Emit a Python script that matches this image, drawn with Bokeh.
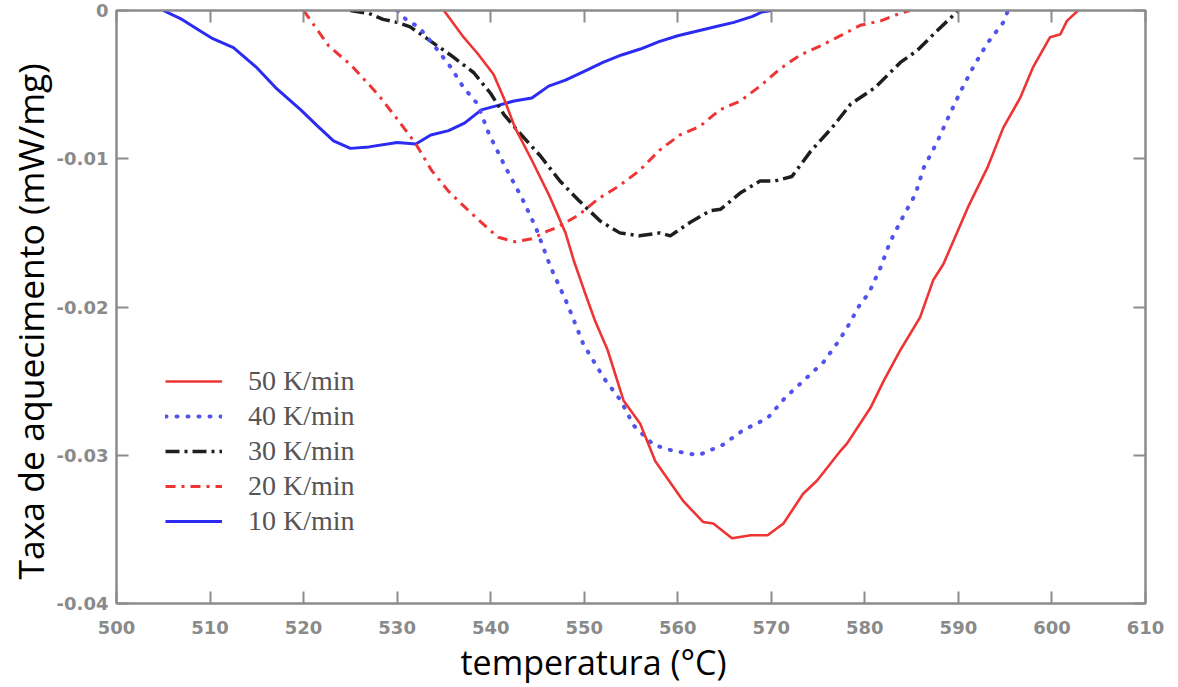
from bokeh.embed import file_html
from bokeh.models import (CustomJSTickFormatter, FixedTicker, Legend,
                          LegendItem, LinearAxis, Range1d, Title)
from bokeh.plotting import figure
from bokeh.resources import INLINE

# Heating rates shown in the legend
rates = ["50 K/min", "40 K/min", "30 K/min", "20 K/min", "10 K/min"]

# DSC signal (mW/mg) against temperature (°C) for each heating rate
t_50 = [535, 537.1, 538.6, 540.3, 541.4, 542.6, 544.4, 546.2, 548, 548.9, 550,
        551.2, 552.5, 554.2, 556, 557.6, 560.6, 562.7, 563.8, 565.8, 567.8,
        569.6, 571.3, 573.4, 574.9, 577.4, 578.1, 580.6, 582, 583.8, 585.9,
        587.3, 588.4, 589.5, 591, 593.1, 594.8, 596.6, 598, 599.8, 600.9,
        601.6, 602.8]
q_50 = [0, -0.0018, -0.0029, -0.0043, -0.0059, -0.0079, -0.0101, -0.0124,
        -0.015, -0.0169, -0.0189, -0.021, -0.0229, -0.0263, -0.0279, -0.0304,
        -0.0331, -0.0345, -0.0346, -0.0356, -0.0354, -0.0354, -0.0346,
        -0.0326, -0.0317, -0.0297, -0.0292, -0.0268, -0.025, -0.0229, -0.0207,
        -0.0182, -0.0171, -0.0155, -0.0133, -0.0106, -0.0079, -0.0059,
        -0.0038, -0.0018, -0.0016, -0.0007, 0]

t_40 = [530, 531.1, 532.3, 534, 535.7, 537.1, 538.6, 539.8, 541.6, 543.3,
        544.8, 546.4, 548.2, 549.9, 552.1, 553.9, 555.3, 557.4, 559.5, 562.2,
        564.8, 567, 569.6, 571.5, 573.4, 575.6, 577.2, 578.1, 579.5, 580.4,
        581.7, 582.7, 584, 585.4, 586.3, 587.7, 589, 590.2, 591.6, 593.1,
        594.8, 595.3]
q_40 = [0, -0.0007, -0.0011, -0.0024, -0.0038, -0.0052, -0.0063, -0.0083,
        -0.0106, -0.0126, -0.0146, -0.0173, -0.0198, -0.0225, -0.0248,
        -0.0263, -0.028, -0.0293, -0.0297, -0.03, -0.0293, -0.0283, -0.0275,
        -0.0261, -0.025, -0.0237, -0.0223, -0.0214, -0.0198, -0.0191,
        -0.0173, -0.0156, -0.014, -0.0124, -0.0106, -0.0089, -0.0071,
        -0.0055, -0.0038, -0.0022, -0.0008, 0]

t_30 = [525, 527, 528.5, 530, 531.4, 533.2, 535.7, 538.2, 540, 541.4, 543,
        545.3, 547.4, 549.4, 551.7, 553.8, 555.9, 558.1, 559.2, 561.3, 563.5,
        564.6, 566.7, 568.8, 570.4, 572.2, 574.2, 576.5, 578.5, 581.1, 583.8,
        585.6, 587.5, 590]
q_30 = [0, -0.0002, -0.0006, -0.0008, -0.0011, -0.0019, -0.003, -0.0042,
        -0.0056, -0.007, -0.0082, -0.0098, -0.0115, -0.0128, -0.0142, -0.015,
        -0.0152, -0.015, -0.0152, -0.0143, -0.0135, -0.0134, -0.0123,
        -0.0115, -0.0115, -0.0112, -0.0095, -0.0079, -0.0063, -0.0052,
        -0.0035, -0.0027, -0.0015, 0]

t_20 = [520, 522.7, 525.1, 528, 530.1, 532, 533.7, 535.5, 537.3, 539, 540.8,
        542.6, 544.4, 546, 547.2, 549.4, 551.5, 553.8, 555.9, 558.1, 560.2,
        562.4, 564.5, 566.7, 568.8, 571, 573.1, 575.2, 577.4, 579.5, 581.7,
        583.3, 584.8]
q_20 = [0, -0.0024, -0.0037, -0.0057, -0.0074, -0.009, -0.0108, -0.0122,
        -0.0133, -0.0143, -0.0153, -0.0156, -0.0154, -0.0149, -0.0146,
        -0.0138, -0.0127, -0.0118, -0.0108, -0.0094, -0.0084, -0.0078,
        -0.0067, -0.0061, -0.0051, -0.0039, -0.003, -0.0024, -0.0017, -0.001,
        -0.0007, -0.0003, 0]

t_10 = [505, 507, 509, 510.3, 512.5, 514.9, 517, 519.7, 521.5, 523.2, 525,
        527, 530, 532, 533.6, 535.5, 537.2, 539, 540.8, 542.5, 544.4, 546.2,
        548, 550, 552, 554, 556, 558, 560, 562, 564, 566, 568, 569, 570]
q_10 = [0, -0.0006, -0.0014, -0.0019, -0.0025, -0.0038, -0.0052, -0.0067,
        -0.0078, -0.0088, -0.0093, -0.0092, -0.0089, -0.009, -0.0084,
        -0.0081, -0.0076, -0.0067, -0.0064, -0.0061, -0.0059, -0.0051,
        -0.0047, -0.0041, -0.0035, -0.003, -0.0026, -0.0021, -0.0017,
        -0.0014, -0.0011, -0.0008, -0.0004, -0.0001, 0]

x_ticks = [500, 510, 520, 530, 540, 550, 560, 570, 580, 590, 600, 610]
y_ticks = [0, -0.01, -0.02, -0.03, -0.04]

FRAME_GREY = "#8c8c8c"
TICK_GREY = "#8a8a8a"

p = figure(width=1178, height=687,
           x_range=Range1d(500, 610), y_range=Range1d(-0.04, 0),
           min_border_left=116, min_border_right=33,
           min_border_top=10, min_border_bottom=84,
           toolbar_location=None, output_backend="svg")
p.xgrid.visible = False
p.ygrid.visible = False
p.background_fill_color = "white"
p.border_fill_color = "white"
p.outline_line_color = FRAME_GREY
p.outline_line_width = 2

y_fmt = CustomJSTickFormatter(code="return tick == 0 ? '0' : tick.toFixed(2);")
blank_fmt = CustomJSTickFormatter(code="return '';")


def style_axis(ax, ticks, show_labels):
    ax.ticker = FixedTicker(ticks=ticks)
    ax.axis_line_color = FRAME_GREY
    ax.axis_line_width = 2
    ax.major_tick_line_color = FRAME_GREY
    ax.major_tick_line_width = 2
    ax.major_tick_in = 12
    ax.major_tick_out = 0
    ax.minor_tick_line_color = None
    ax.major_label_text_font = "DejaVu Sans"
    ax.major_label_text_font_style = "bold"
    ax.major_label_text_font_size = "18px"
    ax.major_label_text_color = TICK_GREY
    if not show_labels:
        ax.formatter = blank_fmt
        ax.major_label_standoff = 0
        ax.major_label_text_font_size = "0px"


xa = p.xaxis[0]
style_axis(xa, x_ticks, True)
xa.major_label_standoff = 17

ya = p.yaxis[0]
style_axis(ya, y_ticks, True)
ya.formatter = y_fmt
ya.major_label_standoff = 8

top_axis = LinearAxis()
style_axis(top_axis, x_ticks, False)
p.add_layout(top_axis, "above")
right_axis = LinearAxis()
style_axis(right_axis, y_ticks, False)
p.add_layout(right_axis, "right")

# Axis titles, set slightly off-centre along the frame
title_style = dict(text_font="Open Sans", text_font_style="normal",
                   text_color="black", align="left", standoff=0)
p.add_layout(Title(text="temperatura (°C)", offset=344,
                   text_font_size="34px", **title_style), "below")
p.add_layout(Title(text="Taxa de aquecimento (mW/mg)", offset=24,
                   text_font_size="35.5px", **title_style), "left")

RED = "#ee3434"
r10 = p.line(t_10, q_10, line_color="#2b2bf2", line_width=3)
r20 = p.line(t_20, q_20, line_color=RED, line_width=3,
             line_dash="10 6 3 6")
r30 = p.line(t_30, q_30, line_color="#1e1e1e", line_width=3.5,
             line_dash="14 5 3 5")
r40 = p.line(t_40, q_40, line_color="#5252ee", line_width=4,
             line_dash="1 10", line_cap="round")
r50 = p.line(t_50, q_50, line_color=RED, line_width=2.6)

legend = Legend(
    items=[LegendItem(label=rates[0], renderers=[r50]),
           LegendItem(label=rates[1], renderers=[r40]),
           LegendItem(label=rates[2], renderers=[r30]),
           LegendItem(label=rates[3], renderers=[r20]),
           LegendItem(label=rates[4], renderers=[r10])],
    location=(49, 66), glyph_width=57, glyph_height=30, label_height=30,
    label_standoff=26, spacing=3, padding=0, margin=0,
    label_text_font="Liberation Serif", label_text_font_size="28px",
    label_text_color="#555555", border_line_alpha=0,
    background_fill_alpha=0)
p.add_layout(legend)

open("out.html", "w").write(file_html(p, INLINE))
